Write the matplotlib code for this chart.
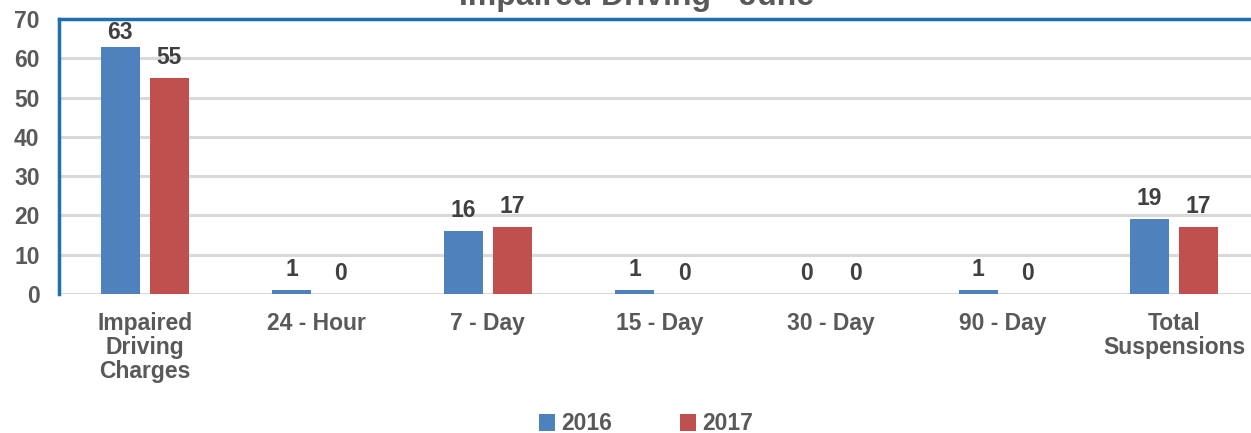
import matplotlib
matplotlib.use("Agg")
import matplotlib.pyplot as plt
import numpy as np

categories = ["Impaired\nDriving\nCharges", "24 - Hour", "7 - Day", "15 - Day",
              "30 - Day", "90 - Day", "Total\nSuspensions"]
values_2016 = [63, 1, 16, 1, 0, 1, 19]
values_2017 = [55, 0, 17, 0, 0, 0, 17]
series_names = ["2016", "2017"]
y_ticks = [0, 10, 20, 30, 40, 50, 60, 70]
title = "Impaired Driving - June"

plt.rcParams['font.family'] = ['Liberation Sans', 'DejaVu Sans']
plt.rcParams['font.weight'] = 'bold'

W, H = 1251, 433
fig = plt.figure(figsize=(W / 100, H / 100), dpi=100)
fig.patch.set_facecolor('white')
ax = fig.add_axes([59 / W, 1 - 294 / H, 1201 / W, 275 / H])

blue = '#4F81BD'
red = '#C0504D'
spine_blue = '#1F6EAE'
label_gray = '#595959'
dark = '#404040'
fs = 16.5

x = np.arange(len(categories))
bw = 0.227
off = 0.143
b1 = ax.bar(x - off, values_2016, bw, color=blue, zorder=3)
b2 = ax.bar(x + off, values_2017, bw, color=red, zorder=3)

for bars, vals in ((b1, values_2016), (b2, values_2017)):
    for rect, v in zip(bars, vals):
        dy = 6.5 if v < 60 else 2
        ax.annotate(str(v), (rect.get_x() + rect.get_width() / 2, v),
                    xytext=(0, dy), textcoords='offset points',
                    ha='center', va='bottom', fontsize=fs, fontweight='bold',
                    color=dark, annotation_clip=False)

ax.set_xlim(-0.5, len(categories) - 0.5)
ax.set_ylim(0, 70)
ax.set_yticks(y_ticks)
ax.set_xticks(x)
ax.set_xticklabels(categories, fontsize=fs, fontweight='bold', color=label_gray,
                   linespacing=1.05)
ax.tick_params(axis='x', length=0, pad=13)
ax.tick_params(axis='y', length=0, pad=14, labelsize=fs, labelcolor=label_gray)
for lbl in ax.get_yticklabels():
    lbl.set_fontweight('bold')

ax.yaxis.grid(True, color='#D9D9D9', linewidth=2.2, zorder=0)
ax.set_axisbelow(True)
for s in ('right', 'bottom'):
    ax.spines[s].set_visible(False)
ax.spines['left'].set_color(spine_blue)
ax.spines['left'].set_linewidth(2.5)
ax.spines['top'].set_color(spine_blue)
ax.spines['top'].set_linewidth(2.5)

fig.text(637 / W, 1 - 5 / H, title, ha='center', va='baseline', fontsize=23,
         fontweight='bold', color=label_gray)

leg = fig.legend([b1, b2], series_names, loc='center', ncol=2,
                 bbox_to_anchor=(646 / W, 1 - 424 / H), frameon=False,
                 fontsize=fs, handlelength=0.7, handleheight=0.7,
                 handletextpad=0.25, columnspacing=3.0)
for t in leg.get_texts():
    t.set_color(label_gray)
    t.set_fontweight('bold')

fig.savefig('out.png', dpi=100, facecolor='white')
